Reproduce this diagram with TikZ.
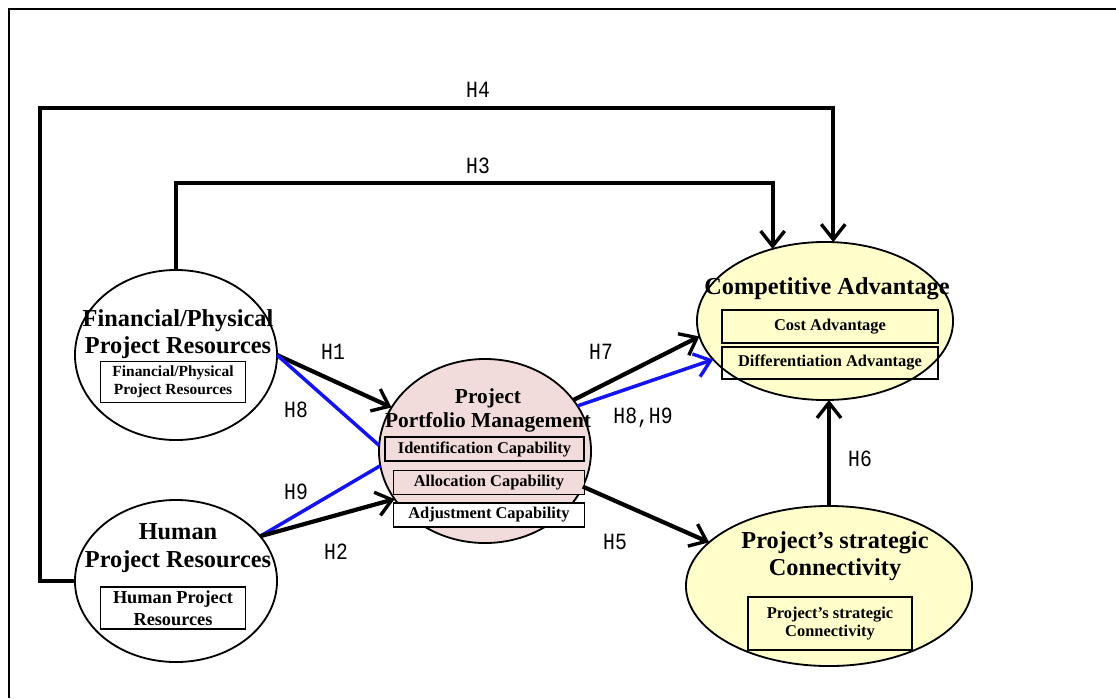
\documentclass[tikz,border=0pt]{standalone}
\usepackage{fontspec}
\setmainfont{Liberation Serif}
\newfontfamily\hypfont[FakeStretch=0.85]{Liberation Mono}
\usepackage{tikz}
\usetikzlibrary{positioning}
\usetikzlibrary{shapes}
\usetikzlibrary{arrows.meta}
\usetikzlibrary{calc}

\definecolor{ppmpink}{RGB}{242,220,219}
\definecolor{advyellow}{RGB}{255,255,204}
\definecolor{medblue}{RGB}{20,20,240}

\begin{document}
\begin{tikzpicture}[x=0.025cm, y=-0.025cm,
  construct/.style={ellipse, draw, line width=1.3pt, inner sep=0pt, outer sep=0pt},
  head/.style={font=\bfseries\fontsize{17.3}{19.5}\selectfont, align=center, inner sep=0pt},
  indic/.style={draw, line width=1.3pt, align=center, inner sep=0pt, font=\bfseries\fontsize{11.7}{13}\selectfont},
  hyp/.style={font=\hypfont\fontsize{16.5}{18}\selectfont, inner sep=0pt},
  tip/.style={-{Straight Barb[length=3.8mm, width=6mm, line width=2.4pt]}},
  link/.style={line width=3pt, tip},
  med/.style={line width=2.5pt, medblue}
]
\useasboundingbox (0,0) rectangle (1116,698);
\draw[line width=1.4pt] (1116,9) -- (9,9) -- (9,698);

% constructs
\node[construct, minimum width=5.05cm, minimum height=4.25cm] (fin) at (176,355) {};
\node[construct, minimum width=5.05cm, minimum height=4.05cm] (hum) at (176,581) {};
\node[construct, fill=ppmpink, minimum width=5.3cm, minimum height=4.6cm] (ppm) at (485,451) {};
\node[construct, fill=advyellow, minimum width=6.4cm, minimum height=3.95cm] (comp) at (825,321) {};
\node[construct, fill=advyellow, minimum width=7.15cm, minimum height=4cm] (strat) at (829,586) {};

\node[head] (finT) at (178,334) {Financial/Physical\\Project Resources};
\node[head, font=\bfseries\fontsize{17.3}{20}\selectfont] (humT) at (178,548) {Human\\Project Resources};
\node[head, font=\bfseries\fontsize{15.2}{17}\selectfont] (ppmT) at (488,410) {Project\\Portfolio Management};
\node[head] (compT) at (827,289) {Competitive Advantage};
\node[head] (stratT) at (835,556) {Project’s strategic\\Connectivity};

% indicators
\node[indic, font=\bfseries\fontsize{11}{13}\selectfont, minimum width=3.625cm, minimum height=1.025cm] (finB) at (173,382) {Financial/Physical\\Project Resources};
\node[indic, font=\bfseries\fontsize{13}{15.5}\selectfont, minimum width=3.625cm, minimum height=1.05cm] (humB) at (173,608) {Human Project\\Resources};
\node[indic, fill=ppmpink, minimum width=4.975cm, minimum height=0.6cm] (idB) at (484.5,449) {Identification Capability};
\node[indic, fill=ppmpink, minimum width=4.775cm, minimum height=0.6cm] (alB) at (489,482.5) {Allocation Capability};
\node[indic, fill=white, minimum width=4.775cm, minimum height=0.6cm] (adB) at (489,515) {Adjustment Capability};
\node[indic, fill=advyellow, minimum width=5.4cm, minimum height=0.825cm] (costB) at (830,326.5) {Cost Advantage};
\node[indic, minimum width=5.4cm, minimum height=0.8cm] (diffB) at (830,363) {Differentiation Advantage};
\node[indic, fill=advyellow, minimum width=4.1cm, minimum height=1.325cm] (stratB) at (830,623.5) {Project’s strategic\\Connectivity};

% paths
\coordinate (h3lvl) at (0,183);
\coordinate (h4lvl) at (40,108);
\draw[link] (fin.north) -- (fin.north |- h3lvl) -| (comp.126);
\draw[link] (hum.west) -| (h4lvl) -| (comp.84);
\draw[link] (fin.east) -- (ppm.155);
\draw[med] (fin.east) -- (ppm.177);
\draw[med] (hum.28) -- (ppm.188);
\draw[link] (hum.28) -- (ppm.208);
\draw[link] (ppm.30) -- (comp.187);
\draw[med, tip] (ppm.26) -- (comp.199);
\draw[link] (ppm.340) -- (strat.160);
\draw[link] (strat.north) -- (strat.north |- comp.south);

\node[hyp] (lh4) at (478,90) {H4};
\node[hyp] (lh3) at (478,166) {H3};
\node[hyp] (lh1) at (333,352) {H1};
\node[hyp] (lh8) at (296,410) {H8};
\node[hyp] (lh9) at (296,492) {H9};
\node[hyp] (lh2) at (336,552) {H2};
\node[hyp] (lh7) at (601,352) {H7};
\node[hyp] (lh89) at (643,418) {H8,H9};
\node[hyp] (lh5) at (615,542) {H5};
\node[hyp] (lh6) at (860,459) {H6};
\end{tikzpicture}
\end{document}
